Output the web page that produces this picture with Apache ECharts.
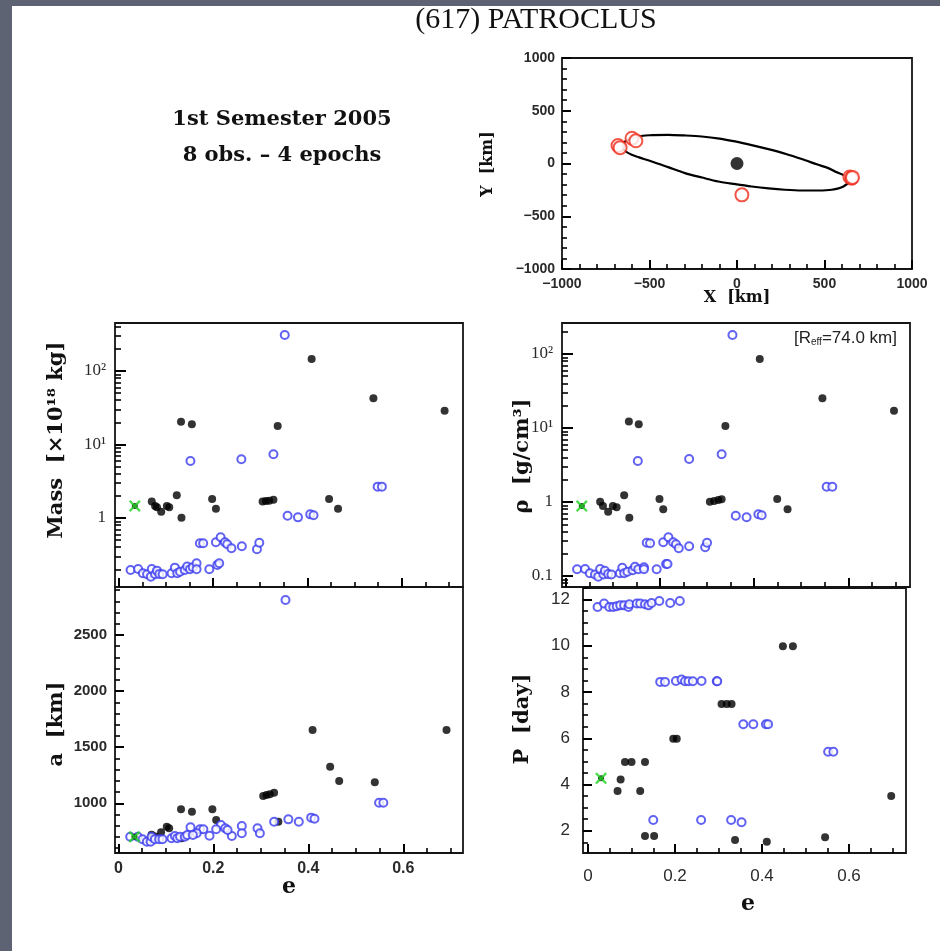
<!DOCTYPE html>
<html><head><meta charset="utf-8">
<script src="https://cdn.jsdelivr.net/npm/echarts@6/dist/echarts.min.js"></script>
<style>html,body{margin:0;padding:0;background:#fff}#c{width:940px;height:951px}</style>
</head><body><div id="c"></div>
<script>
// ---------------- DATA ----------------
// Orbit panel (X, Y in km) - orbit curve
var orbitEllipse = [[-659,161],[-649,193],[-630,218],[-583,250],[-500,268],[-392,272],[-300,266],[-202,256],[-100,236],[-11,209],
  [90,172],[179,136],[280,90],[370,42],[460,-10],[522,-44],[560,-76],[617,-117],[641,-164],[608,-218],[541,-249],[465,-256],
  [370,-256],[274,-249],[180,-236],[84,-218],[-10,-196],[-106,-171],[-200,-133],[-297,-91],[-390,-37],[-487,19],[-560,58],
  [-602,82],[-643,123],[-659,161]];
var orbitObs = [[-680,170],[-668,150],[-600,240],[-578,215],[645,-128],[655,-140],[660,-132],[28,-297]];
var orbitPrimary = [[0,0]];
// Mass panel (e, Mass x1e18 kg)
var massBlack = [[0.070,1.67],[0.077,1.45],[0.081,1.40],[0.090,1.22],[0.102,1.46],[0.107,1.40],[0.123,2.04],[0.133,1.01],[0.132,20.4],[0.155,18.8],
  [0.198,1.81],[0.206,1.33],[0.305,1.67],[0.312,1.70],[0.319,1.72],[0.328,1.77],[0.337,17.9],[0.409,145.6],[0.446,1.81],[0.465,1.33],[0.540,42.5],[0.691,28.8]];
var massBlue = [[0.352,309],[0.152,5.97],[0.260,6.3],[0.328,7.35],[0.358,1.07],[0.380,1.02],[0.406,1.12],[0.413,1.09],[0.549,2.67],[0.558,2.67],
  [0.172,0.453],[0.179,0.453],[0.206,0.467],[0.216,0.546],[0.225,0.467],[0.230,0.44],[0.239,0.387],[0.261,0.412],[0.293,0.375],[0.298,0.461],
  [0.209,0.23],[0.213,0.242],[0.192,0.2],[0.025,0.196],[0.041,0.202],[0.051,0.177],[0.060,0.171],[0.068,0.159],[0.070,0.202],[0.077,0.171],
  [0.081,0.192],[0.086,0.173],[0.093,0.171],[0.112,0.177],[0.119,0.211],[0.124,0.177],[0.130,0.186],[0.140,0.196],[0.145,0.218],[0.151,0.2],
  [0.157,0.213],[0.165,0.242],[0.165,0.2]];
var massGreen = [[0.034,1.46]];
// Density panel (e, rho g/cm3)
var rhoBlack = [[0.073,1.01],[0.079,0.88],[0.090,0.74],[0.100,0.88],[0.108,0.85],[0.124,1.23],[0.135,0.61],[0.134,12.2],[0.155,11.2],[0.199,1.10],
  [0.207,0.80],[0.306,1.01],[0.315,1.03],[0.324,1.06],[0.331,1.09],[0.339,10.6],[0.412,85.6],[0.449,1.10],[0.471,0.80],[0.545,25.2],[0.697,17.1]];
var rhoBlue = [[0.354,180.7],[0.153,3.58],[0.262,3.81],[0.331,4.41],[0.361,0.653],[0.384,0.621],[0.409,0.682],[0.416,0.661],[0.554,1.61],[0.566,1.61],
  [0.172,0.282],[0.179,0.277],[0.207,0.285],[0.218,0.334],[0.228,0.285],[0.234,0.268],[0.240,0.237],[0.262,0.252],[0.296,0.244],[0.300,0.281],
  [0.213,0.145],[0.216,0.145],[0.193,0.123],[0.024,0.123],[0.041,0.124],[0.051,0.109],[0.062,0.105],[0.069,0.098],[0.073,0.124],[0.080,0.105],
  [0.083,0.118],[0.090,0.106],[0.097,0.105],[0.115,0.109],[0.120,0.129],[0.124,0.109],[0.131,0.114],[0.142,0.120],[0.147,0.133],[0.154,0.123],
  [0.166,0.131],[0.166,0.123]];
var rhoGreen = [[0.034,0.88]];
// Semi-major axis panel (e, a km)
var aBlack = [[0.409,1653],[0.446,1326],[0.465,1199],[0.305,1065],[0.312,1074],[0.319,1080],[0.328,1094],[0.132,947],[0.155,925],[0.198,947],
  [0.206,851],[0.337,836],[0.102,791],[0.107,777],[0.090,742],[0.133,688],[0.540,1187],[0.691,1653],[0.070,720],[0.078,705]];
var aBlue = [[0.352,2812],[0.358,857],[0.380,836],[0.406,872],[0.413,863],[0.328,836],[0.260,798],[0.260,733],[0.293,777],[0.298,733],
  [0.239,709],[0.216,807],[0.225,777],[0.230,762],[0.206,768],[0.192,711],[0.172,768],[0.179,768],[0.152,786],[0.165,733],[0.549,1005],[0.558,1005],
  [0.025,702],[0.041,702],[0.051,679],[0.060,658],[0.068,658],[0.070,702],[0.077,679],[0.086,679],[0.093,679],[0.112,688],[0.119,709],
  [0.124,688],[0.130,702],[0.140,702],[0.145,717],[0.157,717]];
var aGreen = [[0.034,702]];
// Period panel (e, P day)
var pBlack = [[0.448,9.98],[0.471,9.98],[0.307,7.48],[0.319,7.48],[0.330,7.48],[0.196,5.98],[0.204,5.98],[0.085,4.97],[0.100,4.97],[0.131,4.97],
  [0.075,4.22],[0.068,3.72],[0.120,3.72],[0.697,3.50],[0.131,1.78],[0.152,1.78],[0.338,1.60],[0.411,1.53],[0.545,1.72]];
var pBlue = [[0.022,11.68],[0.037,11.83],[0.049,11.68],[0.058,11.68],[0.066,11.71],[0.074,11.75],[0.083,11.75],[0.093,11.68],[0.095,11.80],
  [0.112,11.83],[0.120,11.83],[0.131,11.80],[0.139,11.75],[0.146,11.85],[0.164,11.94],[0.189,11.85],[0.211,11.94],
  [0.166,8.44],[0.177,8.44],[0.202,8.48],[0.215,8.54],[0.223,8.47],[0.231,8.47],[0.241,8.47],[0.261,8.48],[0.296,8.47],[0.297,8.47],
  [0.357,6.61],[0.380,6.61],[0.409,6.61],[0.414,6.61],[0.552,5.42],[0.564,5.42],
  [0.150,2.47],[0.260,2.47],[0.329,2.47],[0.353,2.37]];
var pGreen = [[0.030,4.27]];

// tick values
var orbitMajor = [-1000,-500,0,500,1000];
var orbitMinor = [-900,-800,-700,-600,-400,-300,-200,-100,100,200,300,400,600,700,800,900];
var eMajor = [0,0.2,0.4,0.6];
var eMinor = [0.05,0.1,0.15,0.25,0.3,0.35,0.45,0.5,0.55,0.65,0.7];
var massMajor = [1,10,100];
var massMinor = [0.2,0.3,0.4,0.5,0.6,0.7,0.8,0.9,2,3,4,5,6,7,8,9,20,30,40,50,60,70,80,90,200,300,400];
var rhoMajor = [0.1,1,10,100];
var rhoMinor = [0.08,0.09,0.2,0.3,0.4,0.5,0.6,0.7,0.8,0.9,2,3,4,5,6,7,8,9,20,30,40,50,60,70,80,90,200];
var aMajor = [1000,1500,2000,2500];
var aMinor = [600,700,800,900,1100,1200,1300,1400,1600,1700,1800,1900,2100,2200,2300,2400,2600,2700,2800,2900];
var pMajor = [2,4,6,8,10,12];
var pMinor = [1.5,2.5,3,3.5,4.5,5,5.5,6.5,7,7.5,8.5,9,9.5,10.5,11,11.5,12.5];
var logLabels = {'0.1':'0.1','1':'1','10':'10\u00b9','100':'10\u00b2'};

// ---------------- CHART ----------------
var ink = '#000000';
var grids = [
  {left:562, top:58, width:350, height:211},
  {left:115, top:323, width:348, height:264},
  {left:562, top:323, width:348, height:264},
  {left:115, top:587, width:348, height:266},
  {left:583, top:588, width:323, height:265}
].map(function(g){ return Object.assign({show:true, borderColor:'#151515', borderWidth:1.8}, g); });

var xAxes = [], yAxes = [];
function addAxis(list, dim, o) {
  var pos = dim === 'x' ? 'bottom' : 'left';
  var major = {
    type:o.type||'value', gridIndex:o.grid, min:o.min, max:o.max, position:pos, z:8,
    axisLine:{show:false, onZero:false}, splitLine:{show:false},
    axisTick:{show:true, inside:true, length:o.len||9, customValues:o.major, lineStyle:{color:ink, width:2}},
    axisLabel:{show:!!o.labels, customValues:o.major, margin:o.margin||8, formatter:o.fmt,
      fontFamily:o.ff||'Liberation Sans', fontSize:o.fs||15, fontWeight:o.fw||'normal', color:'#2a2a2a'}
  };
  var minor = {
    type:o.type||'value', gridIndex:o.grid, min:o.min, max:o.max, position:pos, z:8,
    axisLine:{show:false, onZero:false}, splitLine:{show:false},
    axisTick:{show:true, inside:true, length:Math.round((o.len||9)/2), customValues:o.minor, lineStyle:{color:ink, width:1.6}},
    axisLabel:{show:false}
  };
  list.push(major); var idx = list.length - 1; list.push(minor);
  return idx;
}
var fmtSigned = function(v){ return (v<0?'\u2212':'') + Math.abs(v); };
var fmtE = function(v){ return v===0 ? '0' : String(+v.toFixed(2)); };
var fmtLog = function(v){ var k = String(+v.toPrecision(3)); return logLabels[k] !== undefined ? logLabels[k] : k; };
var fmtPlain = function(v){ return String(v); };

var ix = [], iy = [];
ix[0] = addAxis(xAxes,'x',{grid:0,min:-1000,max:1000,major:orbitMajor,minor:orbitMinor,labels:true,fmt:fmtSigned,fs:14,fw:'bold',margin:8});
iy[0] = addAxis(yAxes,'y',{grid:0,min:-1000,max:1000,major:orbitMajor,minor:orbitMinor,labels:true,fmt:fmtSigned,fs:14,fw:'bold',margin:7});
ix[1] = addAxis(xAxes,'x',{grid:1,min:-0.008,max:0.73,major:eMajor,minor:eMinor,labels:false});
iy[1] = addAxis(yAxes,'y',{grid:1,type:'log',min:0.115,max:450,major:massMajor,minor:massMinor,labels:true,fmt:fmtLog,ff:'Liberation Serif',fs:17,len:11,margin:9});
ix[2] = addAxis(xAxes,'x',{grid:2,min:-0.008,max:0.731,major:eMajor,minor:eMinor,labels:false});
iy[2] = addAxis(yAxes,'y',{grid:2,type:'log',min:0.071,max:262,major:rhoMajor,minor:rhoMinor,labels:true,fmt:fmtLog,ff:'Liberation Serif',fs:17,len:11,margin:9});
ix[3] = addAxis(xAxes,'x',{grid:3,min:-0.007,max:0.7257,major:eMajor,minor:eMinor,labels:true,fmt:fmtE,fs:16,fw:'bold',margin:8});
iy[3] = addAxis(yAxes,'y',{grid:3,min:557,max:2928,major:aMajor,minor:aMinor,labels:true,fmt:fmtPlain,fs:15,fw:'bold',margin:8});
ix[4] = addAxis(xAxes,'x',{grid:4,min:-0.0115,max:0.731,major:eMajor,minor:eMinor,labels:true,fmt:fmtE,fs:17,margin:15});
iy[4] = addAxis(yAxes,'y',{grid:4,min:1.04,max:12.5,major:pMajor,minor:pMinor,labels:true,fmt:fmtPlain,fs:17,margin:13});

var blueC = '#3b3bf0';
var xPath = 'path://M0,1.4 L1.4,0 L5,3.6 L8.6,0 L10,1.4 L6.4,5 L10,8.6 L8.6,10 L5,6.4 L1.4,10 L0,8.6 L3.6,5 Z';
function panelSeries(g, black, blue, green) {
  return [
    {type:'scatter', xAxisIndex:ix[g], yAxisIndex:iy[g], data:black, symbol:'circle', symbolSize:8, itemStyle:{color:'#000'}, z:3},
    {type:'scatter', xAxisIndex:ix[g], yAxisIndex:iy[g], data:blue, symbol:'emptyCircle', symbolSize:8, itemStyle:{color:blueC, borderWidth:1.6}, z:4},
    {type:'scatter', xAxisIndex:ix[g], yAxisIndex:iy[g], data:green, symbol:'circle', symbolSize:6, itemStyle:{color:'#000'}, z:5},
    {type:'scatter', xAxisIndex:ix[g], yAxisIndex:iy[g], data:green, symbol:xPath, symbolSize:12, itemStyle:{color:'#1ed41e'}, z:6}
  ];
}
var series = [
  {type:'line', xAxisIndex:ix[0], yAxisIndex:iy[0], data:orbitEllipse, smooth:0.3, showSymbol:false, lineStyle:{color:'#000', width:2.2}, z:3},
  {type:'scatter', xAxisIndex:ix[0], yAxisIndex:iy[0], data:orbitPrimary, symbol:'circle', symbolSize:13, itemStyle:{color:'#000'}, z:4},
  {type:'scatter', xAxisIndex:ix[0], yAxisIndex:iy[0], data:orbitObs, symbol:'emptyCircle', symbolSize:13, itemStyle:{color:'#f02a1a', borderWidth:1.6}, z:5}
].concat(panelSeries(1, massBlack, massBlue, massGreen))
 .concat(panelSeries(2, rhoBlack, rhoBlue, rhoGreen))
 .concat(panelSeries(3, aBlack, aBlue, aGreen))
 .concat(panelSeries(4, pBlack, pBlue, pGreen));

var serifB = 'bold 21px "DejaVu Serif"';
function label(text, x, y, font, rot) {
  return {type:'text', x:x, y:y, rotation:rot||0, z:10,
    style:{text:text, font:font, fill:'#111', textAlign:'center', textVerticalAlign:'middle'}};
}
var graphics = [
  {type:'rect', shape:{x:0, y:0, width:12, height:951}, style:{fill:'#5e6373'}, z:20},
  {type:'rect', shape:{x:0, y:0, width:940, height:6}, style:{fill:'#5e6373'}, z:20},
  label('(617) PATROCLUS', 536, 20, '30px "Liberation Serif"'),
  label('1st Semester 2005', 282, 120, serifB),
  label('8 obs. \u2013 4 epochs', 282, 156, serifB),
  label('X  [km]', 737, 298, 'bold 16px "DejaVu Serif"'),
  label('Y  [km]', 488, 164, 'bold 16px "DejaVu Serif"', Math.PI/2),
  label('Mass  [\u00d710\u00b9\u2078 kg]', 57, 440, 'bold 21px "DejaVu Serif"', Math.PI/2),
  label('a  [km]', 57, 724, 'bold 21px "DejaVu Serif"', Math.PI/2),
  label('\u03c1  [g/cm\u00b3]', 523, 456, 'bold 21px "DejaVu Serif"', Math.PI/2),
  label('P  [day]', 523, 719, 'bold 21px "DejaVu Serif"', Math.PI/2),
  label('e', 289, 887, 'bold 22px "DejaVu Serif"'),
  label('e', 748, 904, 'bold 22px "DejaVu Serif"'),
  {type:'text', x:897, y:338, z:10, style:{text:'[R{s|eff}=74.0 km]', font:'17px "Liberation Sans"', fill:'#222',
    textAlign:'right', textVerticalAlign:'middle', rich:{s:{fontSize:10, fontFamily:'Liberation Sans', verticalAlign:'bottom', padding:[8,0,0,0]}}}}
];

var chart = echarts.init(document.getElementById('c'), null, {renderer:'canvas'});
chart.setOption({
  animation:false, backgroundColor:'#ffffff',
  grid:grids, xAxis:xAxes, yAxis:yAxes, series:series, graphic:graphics
});
</script></body></html>
